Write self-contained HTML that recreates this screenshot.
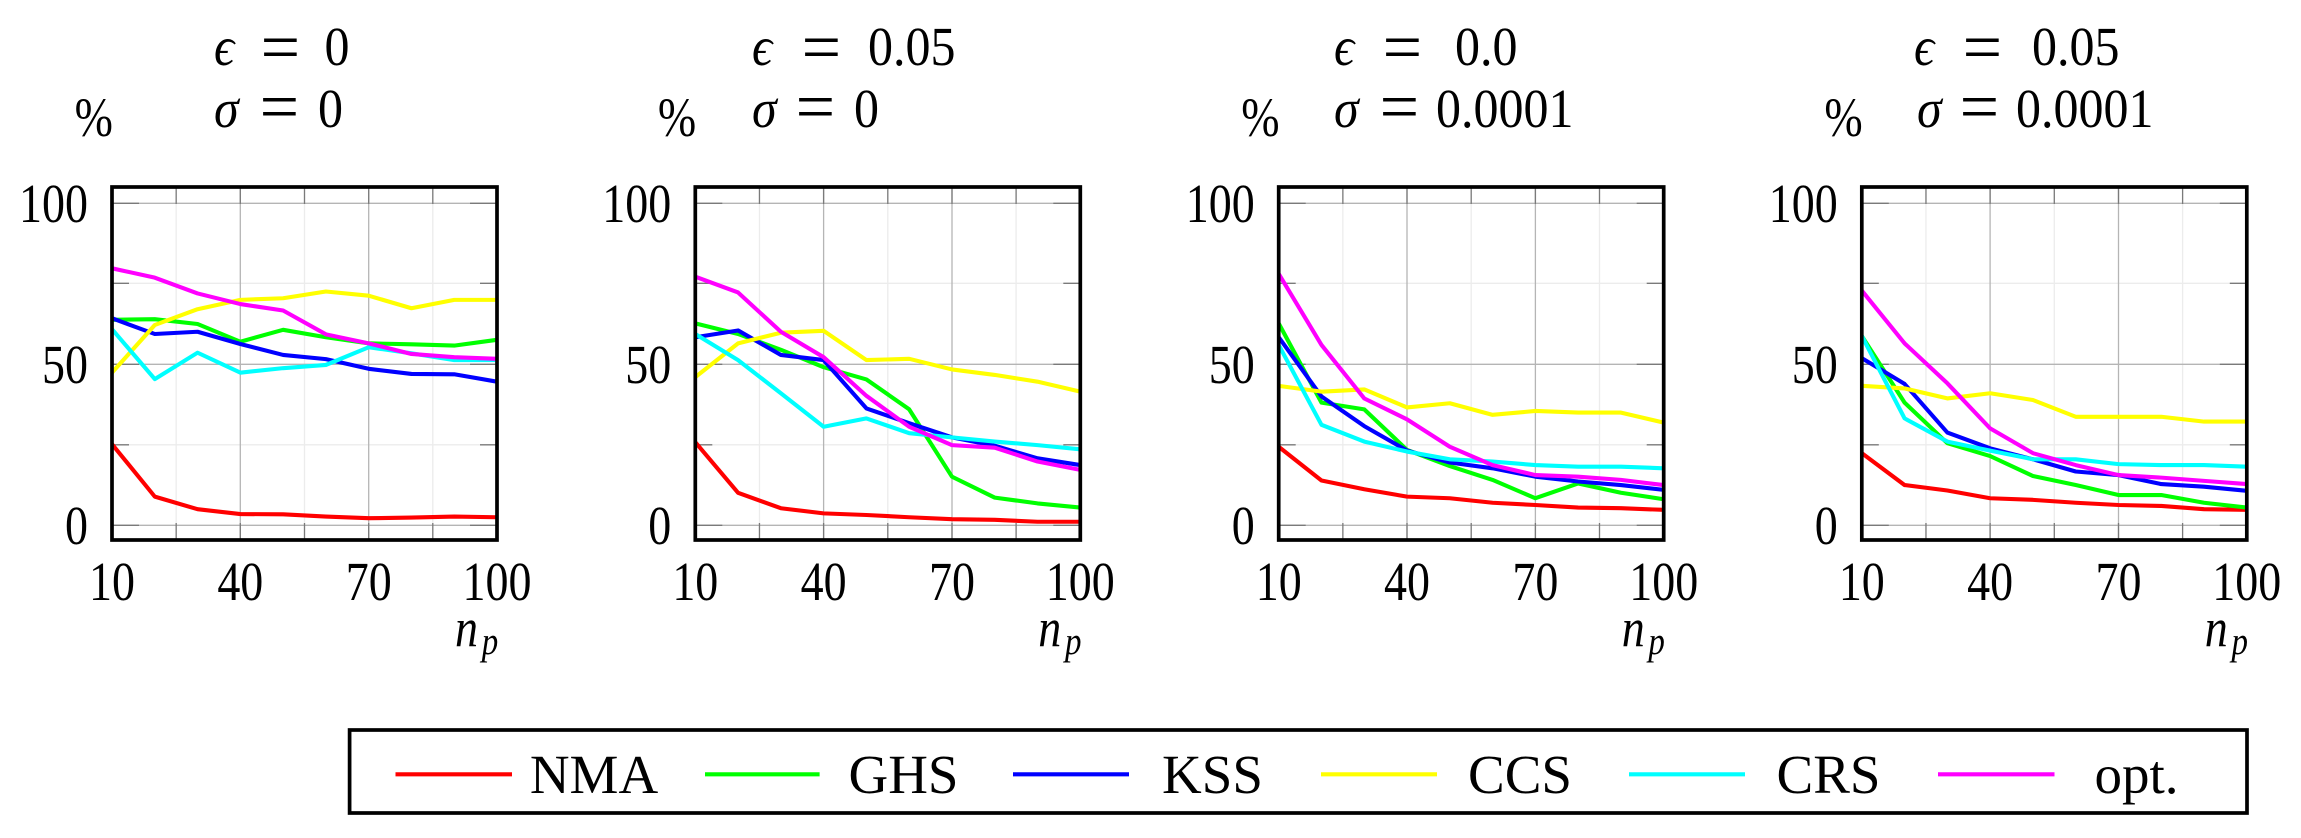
<!DOCTYPE html>
<html><head><meta charset="utf-8"><style>
html,body{margin:0;padding:0;background:#fff;width:2301px;height:838px;overflow:hidden}
svg{display:block}
</style></head><body>
<svg width="2301" height="838" viewBox="0 0 2301 838" xmlns="http://www.w3.org/2000/svg" font-family="'Liberation Serif','DejaVu Serif',serif" fill="#000">
<defs>
<g id="grid">
  <g stroke="#ececec" stroke-width="1.3">
    <line x1="64.17" y1="187" x2="64.17" y2="540"/>
    <line x1="192.5" y1="187" x2="192.5" y2="540"/>
    <line x1="320.8" y1="187" x2="320.8" y2="540"/>
    <line x1="0" y1="283.3" x2="385" y2="283.3"/>
    <line x1="0" y1="444.8" x2="385" y2="444.8"/>
  </g>
  <g stroke="#b5b5b5" stroke-width="1.3">
    <line x1="128.3" y1="187" x2="128.3" y2="540"/>
    <line x1="256.7" y1="187" x2="256.7" y2="540"/>
    <line x1="0" y1="203.3" x2="385" y2="203.3"/>
    <line x1="0" y1="364.3" x2="385" y2="364.3"/>
    <line x1="0" y1="525.3" x2="385" y2="525.3"/>
  </g>
  <g stroke="#7a7a7a" stroke-width="1.3">
    <line x1="64.17" y1="187" x2="64.17" y2="204"/><line x1="64.17" y1="523" x2="64.17" y2="540"/>
    <line x1="128.3" y1="187" x2="128.3" y2="204"/><line x1="128.3" y1="523" x2="128.3" y2="540"/>
    <line x1="192.5" y1="187" x2="192.5" y2="204"/><line x1="192.5" y1="523" x2="192.5" y2="540"/>
    <line x1="256.7" y1="187" x2="256.7" y2="204"/><line x1="256.7" y1="523" x2="256.7" y2="540"/>
    <line x1="320.8" y1="187" x2="320.8" y2="204"/><line x1="320.8" y1="523" x2="320.8" y2="540"/>
    <line x1="0" y1="203.3" x2="27" y2="203.3"/><line x1="358" y1="203.3" x2="385" y2="203.3"/>
    <line x1="0" y1="364.3" x2="27" y2="364.3"/><line x1="358" y1="364.3" x2="385" y2="364.3"/>
    <line x1="0" y1="525.3" x2="27" y2="525.3"/><line x1="358" y1="525.3" x2="385" y2="525.3"/>
    <line x1="0" y1="283.3" x2="17" y2="283.3"/><line x1="368" y1="283.3" x2="385" y2="283.3"/>
    <line x1="0" y1="444.8" x2="17" y2="444.8"/><line x1="368" y1="444.8" x2="385" y2="444.8"/>
  </g>
</g>
<g id="labels">
  <text transform="translate(-24,222) scale(1,1.19)" text-anchor="end" font-size="46">100</text>
  <text transform="translate(-24,382.8) scale(1,1.19)" text-anchor="end" font-size="46">50</text>
  <text transform="translate(-24,543.8) scale(1,1.19)" text-anchor="end" font-size="46">0</text>
  <text transform="translate(0,600) scale(1,1.19)" text-anchor="middle" font-size="46">10</text>
  <text transform="translate(128.3,600) scale(1,1.19)" text-anchor="middle" font-size="46">40</text>
  <text transform="translate(256.7,600) scale(1,1.19)" text-anchor="middle" font-size="46">70</text>
  <text transform="translate(385,600) scale(1,1.19)" text-anchor="middle" font-size="46">100</text>
  <text transform="translate(343,646.7) scale(1,1.19)" font-size="46" font-style="italic">n</text>
  <text transform="translate(369.7,654) scale(1,1.19)" font-size="33" font-style="italic">p</text>
  <text transform="translate(-37.4,136) scale(1,1.19)" font-size="46">%</text>
</g>
</defs>

<!-- Panel 1 -->
<g transform="translate(112,0)">
  <use href="#grid"/>
  <g transform="translate(0,525.3) scale(4.2778,-3.2204) translate(-10,0)" fill="none" stroke-width="4.1" stroke-linejoin="round">
    <polyline vector-effect="non-scaling-stroke" stroke="#ff0000" points="10,25.2 20,8.9 30,5.0 40,3.5 50,3.4 60,2.7 70,2.2 80,2.4 90,2.7 100,2.5"/>
    <polyline vector-effect="non-scaling-stroke" stroke="#00ff00" points="10,63.8 20,64.0 30,62.5 40,57.0 50,60.7 60,58.4 70,56.5 80,56.2 90,55.8 100,57.6"/>
    <polyline vector-effect="non-scaling-stroke" stroke="#0000ff" points="10,64.3 20,59.4 30,60.1 40,56.3 50,52.9 60,51.6 70,48.6 80,47.0 90,46.9 100,44.6"/>
    <polyline vector-effect="non-scaling-stroke" stroke="#ffff00" points="10,47.4 20,62.2 30,67.1 40,70.0 50,70.5 60,72.6 70,71.3 80,67.4 90,70.0 100,70.0"/>
    <polyline vector-effect="non-scaling-stroke" stroke="#00ffff" points="10,60.9 20,45.4 30,53.6 40,47.4 50,48.8 60,49.8 70,55.3 80,53.4 90,51.3 100,51.3"/>
    <polyline vector-effect="non-scaling-stroke" stroke="#ff00ff" points="10,79.8 20,76.9 30,72.0 40,68.7 50,66.7 60,59.3 70,56.5 80,53.2 90,52.2 100,51.7"/>
  </g>
  <rect x="0" y="187" width="385" height="353" fill="none" stroke="#000" stroke-width="3.7"/>
  <use href="#labels"/>
</g>

<!-- Panel 2 -->
<g transform="translate(695.3,0)">
  <use href="#grid"/>
  <g transform="translate(0,525.3) scale(4.2778,-3.2204) translate(-10,0)" fill="none" stroke-width="4.1" stroke-linejoin="round">
    <polyline vector-effect="non-scaling-stroke" stroke="#ff0000" points="10,25.8 20,10.1 30,5.3 40,3.7 50,3.2 60,2.5 70,1.9 80,1.7 90,1.1 100,1.1"/>
    <polyline vector-effect="non-scaling-stroke" stroke="#00ff00" points="10,62.7 20,59.4 30,54.5 40,49.1 50,45.3 60,36.0 70,15.1 80,8.6 90,6.8 100,5.5"/>
    <polyline vector-effect="non-scaling-stroke" stroke="#0000ff" points="10,58.4 20,60.5 30,52.9 40,51.3 50,36.3 60,31.7 70,27.3 80,24.7 90,20.8 100,18.7"/>
    <polyline vector-effect="non-scaling-stroke" stroke="#ffff00" points="10,46.0 20,56.5 30,59.8 40,60.4 50,51.3 60,51.7 70,48.4 80,46.7 90,44.6 100,41.5"/>
    <polyline vector-effect="non-scaling-stroke" stroke="#00ffff" points="10,59.4 20,51.3 30,41.0 40,30.6 50,33.2 60,28.6 70,27.3 80,26.0 90,24.9 100,23.6"/>
    <polyline vector-effect="non-scaling-stroke" stroke="#ff00ff" points="10,77.2 20,72.3 30,60.1 40,52.2 50,40.2 60,30.6 70,24.9 80,24.1 90,19.8 100,17.2"/>
  </g>
  <rect x="0" y="187" width="385" height="353" fill="none" stroke="#000" stroke-width="3.7"/>
  <use href="#labels"/>
</g>

<!-- Panel 3 -->
<g transform="translate(1278.7,0)">
  <use href="#grid"/>
  <g transform="translate(0,525.3) scale(4.2778,-3.2204) translate(-10,0)" fill="none" stroke-width="4.1" stroke-linejoin="round">
    <polyline vector-effect="non-scaling-stroke" stroke="#ff0000" points="10,24.4 20,13.9 30,11.2 40,8.9 50,8.4 60,7.0 70,6.3 80,5.5 90,5.3 100,4.8"/>
    <polyline vector-effect="non-scaling-stroke" stroke="#00ff00" points="10,62.7 20,38.1 30,36.0 40,23.4 50,18.4 60,14.1 70,8.4 80,13.0 90,10.1 100,8.1"/>
    <polyline vector-effect="non-scaling-stroke" stroke="#0000ff" points="10,58.4 20,40.0 30,30.8 40,23.2 50,19.5 60,17.7 70,15.1 80,13.6 90,12.5 100,11.0"/>
    <polyline vector-effect="non-scaling-stroke" stroke="#ffff00" points="10,43.3 20,41.5 30,42.2 40,36.6 50,37.9 60,34.3 70,35.5 80,35.0 90,35.0 100,31.9"/>
    <polyline vector-effect="non-scaling-stroke" stroke="#00ffff" points="10,56.0 20,31.2 30,26.0 40,22.9 50,20.5 60,19.8 70,18.7 80,18.2 90,18.2 100,17.7"/>
    <polyline vector-effect="non-scaling-stroke" stroke="#ff00ff" points="10,78.1 20,56.0 30,39.4 40,32.9 50,24.4 60,18.7 70,15.6 80,15.1 90,14.1 100,12.5"/>
  </g>
  <rect x="0" y="187" width="385" height="353" fill="none" stroke="#000" stroke-width="3.7"/>
  <use href="#labels"/>
</g>

<!-- Panel 4 -->
<g transform="translate(1861.8,0)">
  <use href="#grid"/>
  <g transform="translate(0,525.3) scale(4.2778,-3.2204) translate(-10,0)" fill="none" stroke-width="4.1" stroke-linejoin="round">
    <polyline vector-effect="non-scaling-stroke" stroke="#ff0000" points="10,22.4 20,12.5 30,10.8 40,8.4 50,7.9 60,7.0 70,6.3 80,6.0 90,5.0 100,4.8"/>
    <polyline vector-effect="non-scaling-stroke" stroke="#00ff00" points="10,58.8 20,38.1 30,25.5 40,21.5 50,15.3 60,12.5 70,9.4 80,9.4 90,7.0 100,5.5"/>
    <polyline vector-effect="non-scaling-stroke" stroke="#0000ff" points="10,51.9 20,43.9 30,28.8 40,23.9 50,20.5 60,16.7 70,15.6 80,12.8 90,12.0 100,10.7"/>
    <polyline vector-effect="non-scaling-stroke" stroke="#ffff00" points="10,43.3 20,42.5 30,39.4 40,41.0 50,38.9 60,33.7 70,33.7 80,33.7 90,32.2 100,32.2"/>
    <polyline vector-effect="non-scaling-stroke" stroke="#00ffff" points="10,58.8 20,33.2 30,26.0 40,23.2 50,20.5 60,20.5 70,19.0 80,18.7 90,18.7 100,18.2"/>
    <polyline vector-effect="non-scaling-stroke" stroke="#ff00ff" points="10,72.9 20,56.5 30,44.1 40,30.1 50,22.4 60,18.7 70,15.6 80,14.8 90,13.8 100,12.8"/>
  </g>
  <rect x="0" y="187" width="385" height="353" fill="none" stroke="#000" stroke-width="3.7"/>
  <use href="#labels"/>
</g>

<!-- Titles -->
<g font-size="50">
  <!-- P1 -->
  <text transform="translate(214,65) scale(1,1.1)" font-style="italic">ϵ</text>
  <text x="260.6" y="70.3" font-size="70">=</text>
  <text transform="translate(324.5,65) scale(1,1.1)">0</text>
  <text transform="translate(214,127) scale(1,1.1)" font-style="italic">σ</text>
  <text x="259.6" y="130" font-size="70">=</text>
  <text transform="translate(318,127) scale(1,1.1)">0</text>
  <!-- P2 -->
  <text transform="translate(752,65) scale(1,1.1)" font-style="italic">ϵ</text>
  <text x="801.6" y="70.3" font-size="70">=</text>
  <text transform="translate(868,65) scale(1,1.1)">0.05</text>
  <text transform="translate(752,127) scale(1,1.1)" font-style="italic">σ</text>
  <text x="795.6" y="130" font-size="70">=</text>
  <text transform="translate(854,127) scale(1,1.1)">0</text>
  <!-- P3 -->
  <text transform="translate(1334,65) scale(1,1.1)" font-style="italic">ϵ</text>
  <text x="1382.6" y="70.3" font-size="70">=</text>
  <text transform="translate(1455,65) scale(1,1.1)">0.0</text>
  <text transform="translate(1334,127) scale(1,1.1)" font-style="italic">σ</text>
  <text x="1379.6" y="130" font-size="70">=</text>
  <text transform="translate(1436,127) scale(1,1.1)">0.0001</text>
  <!-- P4 -->
  <text transform="translate(1914,65) scale(1,1.1)" font-style="italic">ϵ</text>
  <text x="1962.6" y="70.3" font-size="70">=</text>
  <text transform="translate(2032,65) scale(1,1.1)">0.05</text>
  <text transform="translate(1917,127) scale(1,1.1)" font-style="italic">σ</text>
  <text x="1959.6" y="130" font-size="70">=</text>
  <text transform="translate(2016,127) scale(1,1.1)">0.0001</text>
</g>

<!-- Legend -->
<rect x="349.6" y="730" width="1897.4" height="83" fill="#fff" stroke="#000" stroke-width="3.7"/>
<g stroke-width="4.1">
  <line x1="395.5" y1="774.3" x2="512" y2="774.3" stroke="#ff0000"/>
  <line x1="705" y1="774.3" x2="819.6" y2="774.3" stroke="#00ff00"/>
  <line x1="1013" y1="774.3" x2="1129" y2="774.3" stroke="#0000ff"/>
  <line x1="1321" y1="774.3" x2="1437" y2="774.3" stroke="#ffff00"/>
  <line x1="1629" y1="774.3" x2="1745" y2="774.3" stroke="#00ffff"/>
  <line x1="1938" y1="774.3" x2="2054.5" y2="774.3" stroke="#ff00ff"/>
</g>
<g font-size="55" text-anchor="middle">
  <text x="594" y="793">NMA</text>
  <text x="903.5" y="793">GHS</text>
  <text x="1212.5" y="793">KSS</text>
  <text x="1520" y="793">CCS</text>
  <text x="1828.5" y="793">CRS</text>
  <text x="2136.5" y="793">opt.</text>
</g>
</svg>
</body></html>
